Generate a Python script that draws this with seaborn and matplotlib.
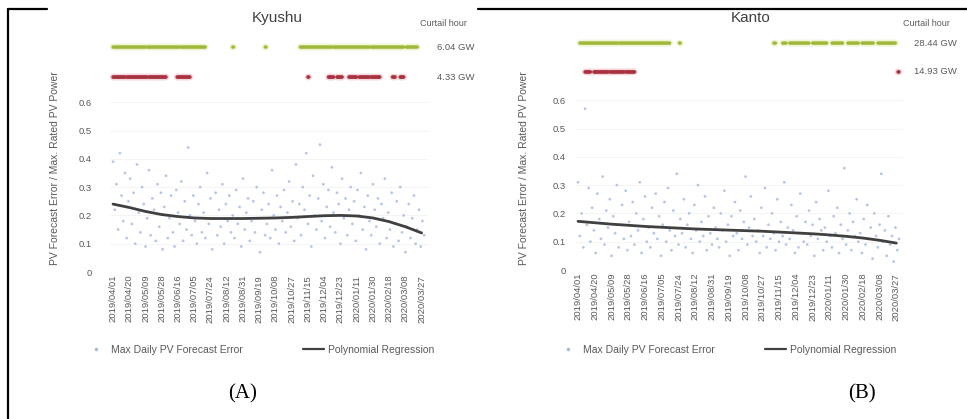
import matplotlib
matplotlib.use('Agg')
import matplotlib.pyplot as plt
from matplotlib.lines import Line2D
from matplotlib.transforms import Bbox, TransformedBbox
import numpy as np
import pandas as pd
import seaborn as sns

# ---- data ----
start_date = '2019/04/01'
tick_dates = ['2019/04/01', '2019/04/20', '2019/05/09', '2019/05/28', '2019/06/16',
              '2019/07/05', '2019/07/24', '2019/08/12', '2019/08/31', '2019/09/19',
              '2019/10/08', '2019/10/27', '2019/11/15', '2019/12/04', '2019/12/23',
              '2020/01/11', '2020/01/30', '2020/02/18', '2020/03/08', '2020/03/27']
y_ticks = [0, 0.1, 0.2, 0.3, 0.4, 0.5, 0.6]
y_tick_labels = ['0', '0.1', '0.2', '0.3', '0.4', '0.5', '0.6']

# max daily error, one point every second day
kyushu_error = [
    0.39, 0.22, 0.31, 0.15, 0.42, 0.27, 0.18, 0.35, 0.12, 0.25,
    0.33, 0.17, 0.28, 0.10, 0.38, 0.21, 0.14, 0.30, 0.24, 0.09,
    0.19, 0.36, 0.13, 0.26, 0.22, 0.11, 0.31, 0.16, 0.28, 0.08,
    0.23, 0.34, 0.12, 0.19, 0.27, 0.14, 0.09, 0.29, 0.21, 0.17,
    0.32, 0.11, 0.25, 0.15, 0.44, 0.20, 0.13, 0.27, 0.18, 0.10,
    0.24, 0.30, 0.14, 0.21, 0.12, 0.35, 0.17, 0.26, 0.08, 0.19,
    0.28, 0.13, 0.22, 0.16, 0.31, 0.10, 0.24, 0.18, 0.27, 0.14,
    0.20, 0.12, 0.29, 0.17, 0.23, 0.09, 0.33, 0.15, 0.21, 0.26,
    0.11, 0.18, 0.25, 0.14, 0.30, 0.19, 0.07, 0.22, 0.28, 0.13,
    0.17, 0.24, 0.12, 0.36, 0.20, 0.15, 0.27, 0.10, 0.23, 0.18,
    0.29, 0.14, 0.21, 0.32, 0.16, 0.25, 0.11, 0.38, 0.19, 0.24,
    0.13, 0.30, 0.22, 0.42, 0.17, 0.27, 0.09, 0.34, 0.20, 0.15,
    0.26, 0.45, 0.18, 0.31, 0.12, 0.23, 0.29, 0.16, 0.37, 0.21,
    0.14, 0.28, 0.24, 0.10, 0.33, 0.19, 0.26, 0.13, 0.22, 0.30,
    0.17, 0.25, 0.11, 0.29, 0.20, 0.35, 0.15, 0.23, 0.08, 0.27,
    0.18, 0.13, 0.31, 0.22, 0.16, 0.26, 0.10, 0.24, 0.19, 0.33,
    0.12, 0.21, 0.15, 0.28, 0.09, 0.17, 0.25, 0.11, 0.30, 0.14,
    0.20, 0.07, 0.16, 0.24, 0.12, 0.19, 0.27, 0.10, 0.15, 0.22,
    0.09, 0.18, 0.13]
kanto_error = [
    0.31, 0.12, 0.20, 0.08, 0.57, 0.16, 0.29, 0.10, 0.22, 0.14,
    0.06, 0.27, 0.18, 0.11, 0.33, 0.09, 0.21, 0.15, 0.25, 0.05,
    0.19, 0.13, 0.30, 0.08, 0.16, 0.23, 0.11, 0.28, 0.07, 0.17,
    0.12, 0.24, 0.09, 0.20, 0.14, 0.31, 0.06, 0.18, 0.26, 0.10,
    0.15, 0.08, 0.22, 0.13, 0.27, 0.11, 0.19, 0.05, 0.16, 0.24,
    0.10, 0.29, 0.14, 0.07, 0.21, 0.12, 0.34, 0.09, 0.18, 0.13,
    0.25, 0.08, 0.16, 0.20, 0.11, 0.06, 0.23, 0.14, 0.30, 0.10,
    0.17, 0.12, 0.26, 0.07, 0.19, 0.13, 0.09, 0.22, 0.15, 0.11,
    0.08, 0.20, 0.14, 0.28, 0.10, 0.16, 0.05, 0.19, 0.12, 0.24,
    0.13, 0.07, 0.21, 0.11, 0.17, 0.33, 0.09, 0.15, 0.26, 0.12,
    0.18, 0.10, 0.14, 0.06, 0.22, 0.12, 0.29, 0.08, 0.16, 0.11,
    0.20, 0.13, 0.07, 0.25, 0.10, 0.17, 0.12, 0.31, 0.09, 0.15,
    0.11, 0.23, 0.14, 0.06, 0.19, 0.08, 0.27, 0.13, 0.10, 0.17,
    0.09, 0.21, 0.12, 0.16, 0.05, 0.24, 0.11, 0.18, 0.14, 0.07,
    0.15, 0.10, 0.28, 0.12, 0.08, 0.19, 0.13, 0.22, 0.06, 0.16,
    0.11, 0.36, 0.09, 0.14, 0.20, 0.07, 0.17, 0.12, 0.25, 0.10,
    0.13, 0.06, 0.18, 0.09, 0.23, 0.11, 0.15, 0.04, 0.20, 0.12,
    0.08, 0.16, 0.34, 0.10, 0.14, 0.05, 0.19, 0.09, 0.12, 0.03,
    0.15, 0.07, 0.11]

# polynomial regression curve, read at the tick dates
kyushu_fit = [0.240, 0.228, 0.214, 0.203, 0.196, 0.191, 0.189, 0.189, 0.189, 0.190,
              0.191, 0.193, 0.196, 0.199, 0.200, 0.198, 0.191, 0.178, 0.160, 0.138]
kanto_fit = [0.172, 0.167, 0.162, 0.158, 0.154, 0.151, 0.148, 0.145, 0.143, 0.141,
             0.139, 0.137, 0.134, 0.131, 0.128, 0.124, 0.119, 0.113, 0.105, 0.095]

# curtailment days (first day, last day counted from start_date)
kyushu_yellow = [(0, 38), (40, 78), (80, 108), (140, 141), (178, 179),
                 (219, 256), (258, 300), (302, 340), (343, 356)]
kyushu_red = [(0, 14), (16, 40), (42, 62), (75, 90), (228, 229), (252, 258),
              (262, 268), (276, 285), (288, 300), (302, 312), (327, 330), (336, 340)]
kanto_yellow = [(2, 45), (47, 104), (115, 116), (222, 224), (232, 236), (240, 262),
                (266, 282), (288, 300), (306, 318), (322, 335), (340, 360)]
kanto_red = [(8, 14), (18, 34), (36, 52), (54, 64), (363, 364)]

kyushu_gw = ['6.04 GW', '4.33 GW']
kanto_gw = ['28.44 GW', '14.93 GW']

W, H = 967, 419
GRAY = '#595959'
DOT = '#a9bedf'


def fx(px):
    return px / W


def fy(py):
    return 1 - py / H


def runs_to_days(runs):
    return [d for a, b in runs for d in range(a, b + 1)]


def draw_panel(fig, rect, title, errors, fit, yellow, red, gw, rows, title_x,
               label_x, ypad, legend_x, colspace, clip_right):
    ax = fig.add_axes(rect)
    t0 = pd.Timestamp(start_date)
    tick_days = [(pd.Timestamp(d) - t0).days for d in tick_dates]
    err_days = list(range(0, 2 * len(errors), 2))

    sns.scatterplot(x=err_days, y=errors, ax=ax, s=4, color=DOT, edgecolor='none',
                    alpha=0.85, legend=False)
    sns.lineplot(x=tick_days, y=fit, ax=ax, color='#404040', lw=2.0)

    # curtailment strips
    yd = runs_to_days(yellow)
    rd = runs_to_days(red)
    sns.scatterplot(x=yd, y=[rows[0]] * len(yd), ax=ax, s=22, color='#eef4cf',
                    edgecolor='none', legend=False)
    sns.scatterplot(x=yd, y=[rows[0]] * len(yd), ax=ax, s=5, color='#9fb83a',
                    edgecolor='none', legend=False)
    sns.scatterplot(x=rd, y=[rows[1]] * len(rd), ax=ax, s=22, color='#f4d6da',
                    edgecolor='none', legend=False)
    sns.scatterplot(x=rd, y=[rows[1]] * len(rd), ax=ax, s=6, color='#a8323f',
                    edgecolor='none', legend=False)

    ax.set_xlim(-4, 368)
    ax.set_ylim(0, 0.88)
    ax.set_yticks(y_ticks)
    ax.set_yticklabels(y_tick_labels)
    ax.set_xticks(tick_days)
    ax.set_xticklabels(tick_dates, rotation=90)
    ax.tick_params(axis='both', length=0, labelsize=6.8, colors=GRAY)
    ax.tick_params(axis='x', pad=2, labelsize=6.8)
    ax.tick_params(axis='y', pad=ypad)
    ax.grid(axis='y', color='#f3f3f3', lw=0.6)
    ax.set_axisbelow(True)
    sns.despine(ax=ax, left=True, bottom=True)
    ax.set_xlabel('')
    ax.set_ylabel('')

    handles = [Line2D([], [], ls='none', marker='o', ms=1.6, color=DOT),
               Line2D([], [], color='#404040', lw=1.6)]
    ax.legend(handles, ['Max Daily PV Forecast Error', 'Polynomial Regression'],
              loc='center left', bbox_to_anchor=(legend_x, fy(350)),
              bbox_transform=fig.transFigure, ncol=2, frameon=False, fontsize=7.5,
              labelcolor=GRAY, handlelength=2.0, handletextpad=0.4,
              columnspacing=colspace, borderpad=0, borderaxespad=0)

    clip = TransformedBbox(Bbox([[0, 0], [clip_right, 1]]), fig.transFigure)
    texts = [fig.text(title_x, fy(18), title, ha='center', va='center',
                      fontsize=11, color='#404040')]
    texts.append(fig.text(label_x[0], fy(23), 'Curtail hour', ha='left',
                          va='center', fontsize=6.5, color=GRAY))
    texts.append(fig.text(label_x[1], fy(rows[2]), gw[0], ha='left', va='center',
                          fontsize=6.8, color=GRAY))
    texts.append(fig.text(label_x[1], fy(rows[3]), gw[1], ha='left', va='center',
                          fontsize=6.8, color=GRAY))
    for t in texts:
        t.set_clip_box(clip)
        t.set_clip_on(True)
    return ax


sns.set_theme(style='white')
plt.rcParams['font.family'] = ['Liberation Sans', 'DejaVu Sans']

fig = plt.figure(figsize=(W / 100, H / 100), dpi=100)
fig.patch.set_facecolor('white')

draw_panel(fig, [fx(109.6), fy(272), fx(318), 249 / H], 'Kyushu', kyushu_error,
           kyushu_fit, kyushu_yellow, kyushu_red, kyushu_gw,
           (0.795, 0.689, 47, 77), fx(277), (fx(420), fx(437)), 13,
           fx(86), 5.8, fx(478))
draw_panel(fig, [fx(574.5), fy(270), fx(328), 249 / H], 'Kanto', kanto_error,
           kanto_fit, kanto_yellow, kanto_red, kanto_gw,
           (0.802, 0.700, 43, 72), fx(751), (fx(903), fx(914)), 6,
           fx(558), 4.8, 1.0)

# y-axis titles
for x in (55, 524):
    fig.text(fx(x), fy(168), 'PV Forecast Error / Max. Rated PV Power', rotation=90,
             ha='center', va='center', fontsize=7.5, color=GRAY)

# sub-figure captions
fig.text(fx(243), fy(394), '(A)', ha='center', va='center', fontsize=15,
         family='Liberation Serif', color='black')
fig.text(fx(862), fy(394), '(B)', ha='center', va='center', fontsize=15,
         family='Liberation Serif', color='black')

# table border around the two pictures
fig.add_artist(Line2D([fx(8), fx(8)], [0, fy(9)], transform=fig.transFigure,
                      color='black', lw=1.6))
fig.add_artist(Line2D([fx(8), fx(47)], [fy(9), fy(9)], transform=fig.transFigure,
                      color='black', lw=1.6))
fig.add_artist(Line2D([fx(478), 1], [fy(9), fy(9)], transform=fig.transFigure,
                      color='black', lw=1.6))

fig.savefig('out.png', dpi=100)
